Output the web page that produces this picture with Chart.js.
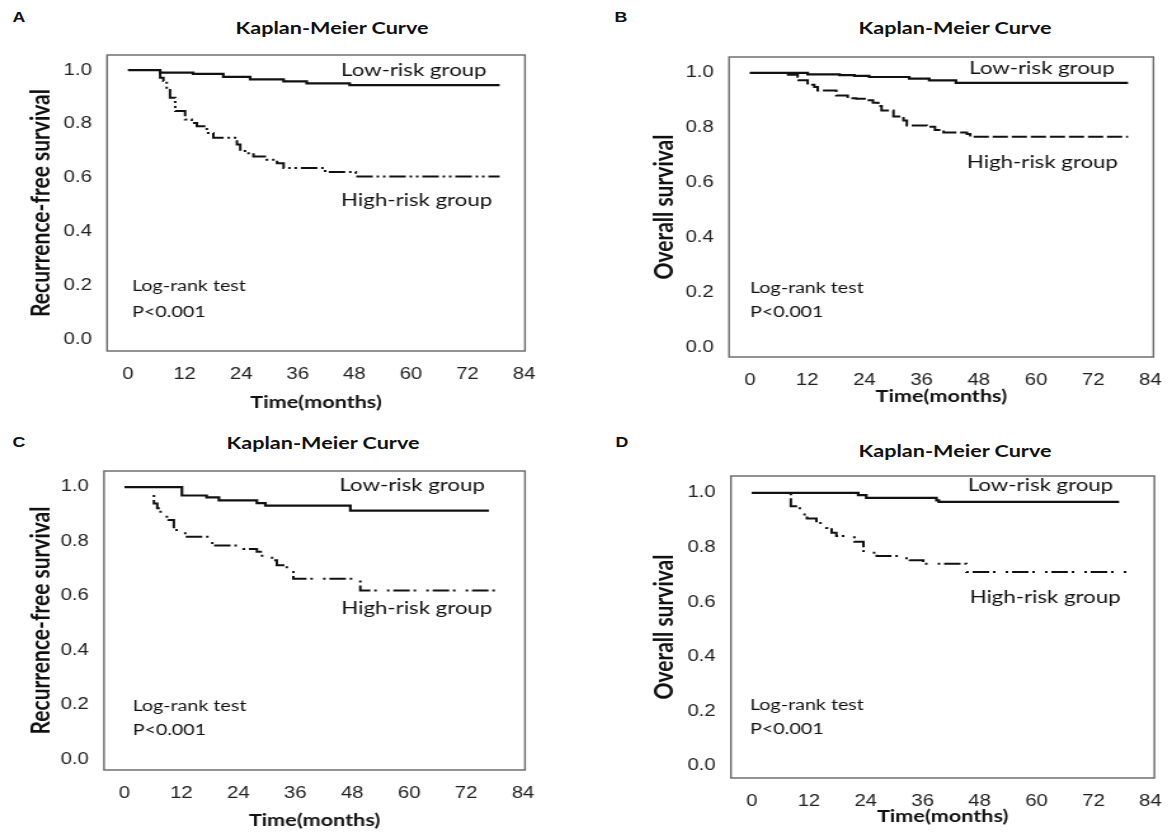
<!DOCTYPE html>
<html>
<head>
<meta charset="utf-8">
<script src="https://cdn.jsdelivr.net/npm/chart.js@4.4.1/dist/chart.umd.min.js"></script>
<style>
  body { margin: 0; background: #fff; width: 1169px; height: 835px; position: relative; overflow: hidden; }
  /* the source figure is stretched sideways, so every panel is drawn narrow and widened */
  .panel { position: absolute; transform: scaleX(1.27); transform-origin: 0 0; }
  .letter { position: absolute; font: bold 14px "Liberation Sans", Arial, sans-serif; color: #111; transform: translate(-50%, -50%) scaleX(1.27); }
  .title { position: absolute; font: bold 17px Lato, sans-serif; color: #111; transform: translate(-50%, -50%) scaleX(1.27); white-space: nowrap; }
</style>
</head>
<body>
<div class="letter" style="left:19px;top:17px">A</div>
<div class="letter" style="left:621px;top:17px">B</div>
<div class="letter" style="left:19px;top:442px">C</div>
<div class="letter" style="left:622px;top:442px">D</div>
<div class="title" style="left:332px;top:27px">Kaplan-Meier Curve</div>
<div class="title" style="left:955px;top:27px">Kaplan-Meier Curve</div>
<div class="title" style="left:323px;top:442px">Kaplan-Meier Curve</div>
<div class="title" style="left:955px;top:450px">Kaplan-Meier Curve</div>

<div class="panel" style="left:0;top:0;width:460px;height:417px"><canvas id="chartA"></canvas></div>
<div class="panel" style="left:584px;top:0;width:461px;height:417px"><canvas id="chartB"></canvas></div>
<div class="panel" style="left:0;top:417px;width:460px;height:418px"><canvas id="chartC"></canvas></div>
<div class="panel" style="left:584px;top:417px;width:461px;height:418px"><canvas id="chartD"></canvas></div>

<script>
// tick labels
const xTicks = [0, 12, 24, 36, 48, 60, 72, 84];
const yTicks = [0, 0.2, 0.4, 0.6, 0.8, 1.0];

// A: recurrence-free survival
const aLowT  = [0, 6.8, 13.8, 20.2, 25.9, 33.0, 37.9, 47.0, 78.8];
const aLowS  = [1.0, 0.991, 0.986, 0.975, 0.966, 0.958, 0.951, 0.944, 0.944];
const aHighT = [0, 6.8, 7.5, 8.2, 8.9, 10.0, 12.1, 13.5, 14.6, 16.7, 18.1, 23.1, 23.8, 24.8, 26.6, 29.4, 31.6, 33.0, 41.8, 48.3, 78.8];
const aHighS = [1.0, 0.972, 0.96, 0.935, 0.898, 0.848, 0.817, 0.804, 0.792, 0.767, 0.749, 0.724, 0.705, 0.692, 0.68, 0.668, 0.655, 0.637, 0.622, 0.606, 0.606];

// B: overall survival
const bLowT  = [0, 12.1, 18.8, 21.9, 25.0, 33.4, 37.6, 43.2, 79.3];
const bLowS  = [1.0, 0.995, 0.992, 0.989, 0.985, 0.979, 0.973, 0.964, 0.964];
const bHighT = [0, 8.0, 10.0, 10.2, 12.1, 13.5, 14.2, 18.1, 20.5, 22.3, 24.4, 25.8, 26.9, 27.6, 30.1, 32.2, 32.9, 37.1, 38.8, 40.6, 45.5, 46.2, 79.3];
const bHighS = [1.0, 0.993, 0.986, 0.973, 0.957, 0.949, 0.936, 0.918, 0.908, 0.906, 0.9, 0.891, 0.879, 0.863, 0.841, 0.826, 0.808, 0.804, 0.792, 0.783, 0.777, 0.767, 0.767];

// C: recurrence-free survival
const cLowT  = [0, 12.1, 17.3, 19.9, 27.9, 29.7, 47.6, 76.8];
const cLowS  = [1.0, 0.969, 0.962, 0.951, 0.941, 0.932, 0.913, 0.913];
const cHighT = [0, 6.2, 6.9, 7.6, 9.3, 10.4, 12.8, 18.5, 25.1, 27.9, 29.0, 31.1, 32.1, 34.2, 35.6, 49.7, 79.2];
const cHighS = [1.0, 0.94, 0.922, 0.891, 0.879, 0.842, 0.817, 0.785, 0.772, 0.762, 0.74, 0.731, 0.713, 0.688, 0.663, 0.62, 0.62];

// D: overall survival
const dLowT  = [0, 22.4, 24.1, 38.9, 39.4, 77.4];
const dLowS  = [1.0, 0.992, 0.982, 0.973, 0.967, 0.967];
const dHighT = [0, 8.2, 10.1, 11.6, 13.6, 15.7, 16.8, 17.8, 21.6, 23.5, 24.8, 26.3, 30.5, 33.3, 36.1, 45.2, 79.5];
const dHighS = [1.0, 0.951, 0.921, 0.906, 0.89, 0.872, 0.854, 0.842, 0.821, 0.787, 0.781, 0.769, 0.761, 0.753, 0.741, 0.71, 0.71];

const pts = (t, s) => t.map((v, i) => ({ x: v, y: s[i] }));

// frame around the plot + text notes placed in data units
const frameAndNotes = {
  id: 'frameAndNotes',
  afterDatasetsDraw(chart, args, opts) {
    const { ctx, chartArea: a, scales: { x, y } } = chart;
    ctx.save();
    ctx.strokeStyle = '#666';
    ctx.lineWidth = 1.4;
    ctx.strokeRect(a.left, a.top, a.right - a.left, a.bottom - a.top);
    ctx.fillStyle = '#111';
    ctx.textBaseline = 'middle';
    ctx.textAlign = 'left';
    opts.notes.forEach(n => {
      ctx.font = n.size + 'px Lato';
      ctx.fillText(n.text, x.getPixelForValue(n.t), y.getPixelForValue(n.s));
    });
    ctx.restore();
  }
};

function makeKM(id, p) {
  new Chart(document.getElementById(id), {
    type: 'line',
    data: {
      datasets: [
        {
          data: pts(p.lowT, p.lowS),
          borderColor: '#111', borderWidth: 2.2, stepped: 'before',
          pointRadius: 0, fill: false
        },
        {
          data: pts(p.highT, p.highS),
          borderColor: '#111', borderWidth: 2, stepped: 'before',
          borderDash: p.dash, pointRadius: 0, fill: false
        }
      ]
    },
    options: {
      responsive: true,
      maintainAspectRatio: false,
      animation: false,
      layout: { padding: { top: p.padTop, right: p.padRight, left: 0, bottom: 0 } },
      plugins: {
        legend: { display: false },
        tooltip: { enabled: false },
        frameAndNotes: { notes: p.notes }
      },
      scales: {
        x: {
          type: 'linear', min: p.xMin, max: p.xMax,
          grid: { display: false }, border: { display: false },
          afterBuildTicks: s => { s.ticks = xTicks.map(v => ({ value: v })); },
          afterFit: s => { s.height = p.xH; },
          ticks: { padding: 6, color: '#222', font: { family: 'Liberation Sans', size: 16 } },
          title: { display: true, text: 'Time(months)', color: '#111',
                   font: { family: 'Lato', size: 17, weight: 'bold' }, padding: { top: 0, bottom: p.xTitlePad } }
        },
        y: {
          min: p.yMin, max: p.yMax,
          grid: { display: false }, border: { display: false },
          afterBuildTicks: s => { s.ticks = yTicks.map(v => ({ value: v })); },
          afterFit: s => { s.width = p.yW; },
          ticks: { padding: 4, color: '#222', font: { family: 'Liberation Sans', size: 16 },
                   callback: v => v.toFixed(1) },
          title: { display: true, text: p.yTitle, color: '#111',
                   font: { family: 'Lato', size: 21, weight: 'bold' }, padding: { top: p.yTitlePad, bottom: 0 } }
        }
      }
    },
    plugins: [frameAndNotes]
  });
}

const notes = (lo, hi, lr) => [
  { text: 'Low-risk group', t: lo[0], s: lo[1], size: 17.5 },
  { text: 'High-risk group', t: hi[0], s: hi[1], size: 17.5 },
  { text: 'Log-rank test', t: lr[0], s: lr[1], size: 15.5 },
  { text: 'P<0.001', t: lr[0], s: lr[2], size: 15.5 }
];

makeKM('chartA', {
  lowT: aLowT, lowS: aLowS, highT: aHighT, highS: aHighS, dash: [13, 3, 2, 3, 2, 3],
  xMin: -4.45, xMax: 84.2, yMin: -0.041, yMax: 1.056,
  padTop: 55, padRight: 46.6, xH: 66, yW: 84.3, xTitlePad: 3.8, yTitlePad: 19.7,
  yTitle: 'Recurrence-free survival',
  notes: notes([45.2, 1.0], [45.2, 0.519], [0.85, 0.2, 0.104])
});

makeKM('chartB', {
  lowT: bLowT, lowS: bLowS, highT: bHighT, highS: bHighS, dash: [12, 3],
  xMin: -4.39, xMax: 84.63, yMin: -0.036, yMax: 1.058,
  padTop: 57, padRight: 11.4, xH: 60, yW: 114.2, xTitlePad: 9.8, yTitlePad: 50.4,
  yTitle: 'Overall survival',
  notes: notes([46, 1.015], [45.5, 0.672], [0, 0.215, 0.128])
});

makeKM('chartC', {
  lowT: cLowT, lowS: cLowS, highT: cHighT, highS: cHighS, dash: [2, 3, 13, 3, 2, 8],
  xMin: -4.32, xMax: 84.42, yMin: -0.04, yMax: 1.059,
  padTop: 54, padRight: 46.6, xH: 65, yW: 81.9, xTitlePad: 3.8, yTitlePad: 19.7,
  yTitle: 'Recurrence-free survival',
  notes: notes([45.3, 1.007], [45.7, 0.555], [1.7, 0.195, 0.107])
});

makeKM('chartD', {
  lowT: dLowT, lowS: dLowS, highT: dHighT, highS: dHighS, dash: [2, 3, 13, 3, 2, 8],
  xMin: -4.42, xMax: 84.84, yMin: -0.044, yMax: 1.062,
  padTop: 59, padRight: 11.4, xH: 57, yW: 115.7, xTitlePad: 7.8, yTitlePad: 50.4,
  yTitle: 'Overall survival',
  notes: notes([45.5, 1.029], [45.9, 0.619], [-0.4, 0.223, 0.136])
});
</script>
</body>
</html>
